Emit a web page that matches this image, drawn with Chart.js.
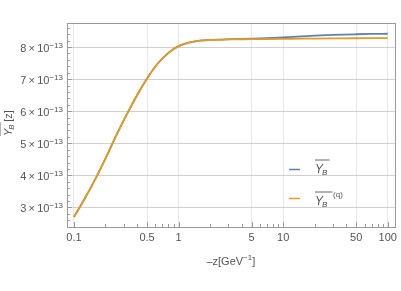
<!DOCTYPE html>
<html>
<head>
<meta charset="utf-8">
<script src="https://cdn.jsdelivr.net/npm/chart.js@4.4.1/dist/chart.umd.min.js"></script>
<style>
  html, body { margin: 0; padding: 0; background: #fff; }
  #wrap { width: 401px; height: 291px; }
</style>
</head>
<body>
<div id="wrap"><canvas id="chart" width="401" height="291"></canvas></div>
<script>
// -z values in GeV^-1
const zVals = [0.1, 0.125, 0.16, 0.2, 0.25, 0.32, 0.4, 0.5, 0.63, 0.8, 1, 1.25, 1.6, 2, 2.5, 3.2, 5, 7, 10, 15, 20, 30, 50, 70, 100];
// Y_B (units of 1e-13)
const yB = [2.70, 3.24, 3.88, 4.52, 5.20, 5.90, 6.49, 7.02, 7.48, 7.82, 8.03, 8.14, 8.20, 8.22, 8.23, 8.245, 8.26, 8.28, 8.30, 8.33, 8.355, 8.38, 8.40, 8.41, 8.415];
// Y_B^(q) (units of 1e-13)
const yBq = [2.70, 3.24, 3.88, 4.52, 5.20, 5.90, 6.49, 7.02, 7.48, 7.82, 8.03, 8.14, 8.20, 8.22, 8.23, 8.24, 8.245, 8.25, 8.255, 8.26, 8.265, 8.27, 8.275, 8.28, 8.28];
const xTicks = [0.1, 0.5, 1, 5, 10, 50, 100];
const xMinor = [0.2, 0.3, 0.4, 0.6, 0.7, 0.8, 0.9, 2, 3, 4, 6, 7, 8, 9, 20, 30, 40, 60, 70, 80, 90];
const yTicks = [3, 4, 5, 6, 7, 8];

const BLUE = '#5E81B5';
const ORANGE = '#E19C24';
const TXT = '#555';
const FONT = '"Liberation Sans", Arial, sans-serif';

// tick labels on y, axis titles, legend and the small tick marks
const decor = {
  id: 'decor',
  afterDraw(chart) {
    const { ctx, chartArea: a, scales: { x, y } } = chart;
    ctx.save();

    // tick marks inside the frame
    ctx.strokeStyle = '#999';
    ctx.lineWidth = 1;
    ctx.beginPath();
    xTicks.forEach(v => { const px = Math.round(x.getPixelForValue(v)) + 0.5; ctx.moveTo(px, a.bottom); ctx.lineTo(px, a.bottom - 5); });
    xMinor.forEach(v => { const px = Math.round(x.getPixelForValue(v)) + 0.5; ctx.moveTo(px, a.bottom); ctx.lineTo(px, a.bottom - 3); });
    yTicks.forEach(v => { const py = Math.round(y.getPixelForValue(v * 1e-13)) + 0.5; ctx.moveTo(a.left, py); ctx.lineTo(a.left + 5, py); });
    for (let v = 2.4; v < 8.8; v += 0.2) {
      if (Math.abs(v - Math.round(v)) < 0.01) continue;
      const py = Math.round(y.getPixelForValue(v * 1e-13)) + 0.5;
      if (py < a.top || py > a.bottom) continue;
      ctx.moveTo(a.left, py); ctx.lineTo(a.left + 3, py);
    }
    ctx.stroke();

    ctx.fillStyle = TXT;
    ctx.strokeStyle = TXT;
    ctx.textBaseline = 'alphabetic';

    // y tick labels: n×10^-13
    yTicks.forEach(v => {
      const py = y.getPixelForValue(v * 1e-13);
      ctx.textAlign = 'right';
      ctx.font = '8px ' + FONT;
      const sup = '\u221213';
      const ws = ctx.measureText(sup).width;
      const right = a.left - 4;
      ctx.fillText(sup, right, py + 0.5);
      ctx.font = '11px ' + FONT;
      ctx.fillText(v + '\u2009×\u200910', right - ws, py + 5);
    });

    // x title: -z[GeV^-1]
    ctx.textAlign = 'left';
    ctx.font = '11px ' + FONT;
    const cx = (a.left + a.right) / 2;
    const p1 = '\u2013z[GeV', p2 = '\u22121', p3 = ']';
    const w1 = ctx.measureText(p1).width;
    ctx.font = '8px ' + FONT;
    const w2 = ctx.measureText(p2).width;
    ctx.font = '11px ' + FONT;
    const w3 = ctx.measureText(p3).width;
    const sx = cx - (w1 + w2 + w3) / 2;
    ctx.fillText(p1, sx, 265);
    ctx.font = '8px ' + FONT;
    ctx.fillText(p2, sx + w1, 260);
    ctx.font = '11px ' + FONT;
    ctx.fillText(p3, sx + w1 + w2, 265);

    // y title: overline Y_B [z]
    ctx.save();
    ctx.translate(12, 121);
    ctx.rotate(-Math.PI / 2);
    drawYB(ctx, -15, 0, 11, null, '[z]');
    ctx.restore();

    // legend
    ctx.lineWidth = 1.5;
    ctx.strokeStyle = BLUE;
    ctx.beginPath(); ctx.moveTo(289, 169.5); ctx.lineTo(300, 169.5); ctx.stroke();
    ctx.strokeStyle = ORANGE;
    ctx.beginPath(); ctx.moveTo(289, 198.5); ctx.lineTo(300, 198.5); ctx.stroke();
    ctx.fillStyle = TXT; ctx.strokeStyle = TXT;
    drawYB(ctx, 315, 173, 12, null, '');
    drawYB(ctx, 315, 205, 12, '(q)', '');

    ctx.restore();
  }
};

function drawYB(ctx, x0, base, size, sup, tail) {
  ctx.textAlign = 'left';
  ctx.font = 'italic ' + size + 'px ' + FONT;
  ctx.fillText('Y', x0, base);
  const wy = ctx.measureText('Y').width;
  const small = Math.round(size * 0.7);
  ctx.font = 'italic ' + small + 'px ' + FONT;
  ctx.fillText('B', x0 + wy - 1, base + 2);
  const wb = ctx.measureText('B').width;
  const wo = wy + wb + (sup ? size * 0.35 : size * 0.1);
  ctx.lineWidth = 0.9;
  ctx.beginPath();
  ctx.moveTo(x0, base - size - 1);
  ctx.lineTo(x0 + wo, base - size - 1);
  ctx.stroke();
  let xe = x0 + wo + 0.5;
  if (sup) {
    ctx.font = small + 'px ' + FONT;
    ctx.fillText(sup, xe, base - size + 4);
    xe += ctx.measureText(sup).width;
  }
  if (tail) {
    ctx.font = size + 'px ' + FONT;
    ctx.fillText(tail, xe, base);
  }
}

new Chart(document.getElementById('chart'), {
  type: 'line',
  data: {
    datasets: [
      { label: 'Y_B', order: 2, data: zVals.map((z, i) => ({ x: z, y: yB[i] * 1e-13 })), borderColor: BLUE, borderWidth: 1.8, pointRadius: 0, cubicInterpolationMode: 'monotone', fill: false },
      { label: 'Y_B^(q)', order: 1, data: zVals.map((z, i) => ({ x: z, y: yBq[i] * 1e-13 })), borderColor: ORANGE, borderWidth: 1.8, pointRadius: 0, cubicInterpolationMode: 'monotone', fill: false }
    ]
  },
  options: {
    responsive: false,
    animation: false,
    layout: { padding: { top: 23, right: 5, left: 0, bottom: 0 } },
    plugins: { legend: { display: false }, tooltip: { enabled: false } },
    scales: {
      x: {
        type: 'logarithmic',
        min: 0.0858,
        max: 116.6,
        afterBuildTicks: s => { s.ticks = xTicks.map(v => ({ value: v })); },
        afterFit: s => { s.height = 64; },
        border: { display: true, color: '#999', width: 1 },
        grid: { color: '#e6e6e6', drawTicks: false },
        ticks: {
          color: TXT, padding: 4, maxRotation: 0, autoSkip: false,
          font: { family: FONT, size: 11 },
          callback: v => String(v)
        }
      },
      y: {
        min: 2.39e-13,
        max: 8.75e-13,
        afterBuildTicks: s => { s.ticks = yTicks.map(v => ({ value: v * 1e-13 })); },
        afterFit: s => { s.width = 67; },
        border: { display: true, color: '#999', width: 1 },
        grid: { color: '#d0d0d0', drawTicks: false },
        ticks: { display: false }
      }
    }
  },
  plugins: [decor, {
    id: 'frame',
    afterDraw(chart) {
      const { ctx, chartArea: a } = chart;
      ctx.save();
      ctx.strokeStyle = '#999';
      ctx.lineWidth = 1;
      ctx.strokeRect(Math.round(a.left) + 0.5, Math.round(a.top) + 0.5, Math.round(a.right - a.left), Math.round(a.bottom - a.top));
      ctx.restore();
    }
  }]
});
</script>
</body>
</html>
